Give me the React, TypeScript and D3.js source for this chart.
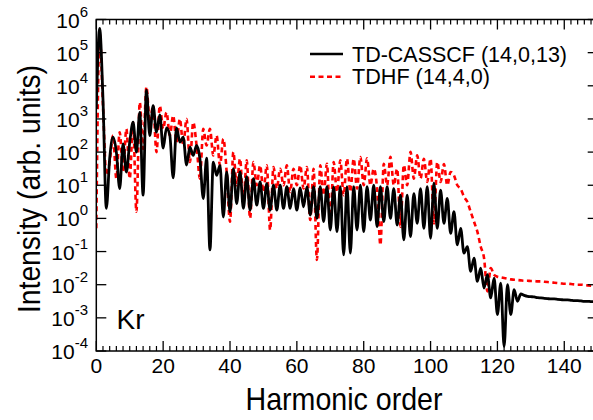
import React from "react";
import * as d3 from "d3";

// Harmonic order grid (x) and log10 intensities
const harmonicOrders: number[] = d3.range(0, 151);

const tdcasscfLog: number[] = [
  3.3, 5.73, 3.6, 0.3, 1.8, 2.45, 2.0, 0.9, 2.25, 1.4,
  2.3, 2.9, 2.0, 3.2, 0.7, 3.87, 2.5, 3.4, 2.6, 3.12,
  2.12, 2.73, 2.5, 1.22, 2.73, 2.3, 2.45, 1.61, 2.15, 1.9,
  2.2, 1.8, 0.6, 1.82, -0.95, 1.7, 1.3, 1.6, 0.04, 1.4,
  0.2, 1.5, 0.45, 1.4, 0.3, 1.26, 0.25, 1.2, 0.4, 1.1,
  0.3, 1.05, 0.25, 1.0, 0.25, 1.0, 0.3, 0.96, 0.3, 0.9,
  0.25, 0.92, 0.35, 0.95, 0.1, 0.96, 0.0, 0.96, -0.1, 0.96,
  -0.35, 0.95, -0.4, 0.96, -1.1, 0.96, -1.05, 0.96, -0.35, 1.0,
  -0.4, 0.96, -0.05, 1.0, -0.25, 0.96, -0.1, 0.96, 0.0, 0.9,
  -0.2, 0.7, -0.65, 0.7, -0.55, 0.75, -0.15, 0.9, -0.3, 0.96,
  -0.6, 1.06, -0.3, 0.85, -0.15, 0.6, -0.45, 0.2, -0.8, -0.3,
  -1.05, -0.85, -1.6, -1.2, -1.9, -1.5, -2.1, -1.7, -2.4, -1.8,
  -2.9, -1.95, -3.87, -2.0, -2.9, -2.15, -2.5, -2.28, -2.32, -2.35,
  -2.36, -2.37, -2.39, -2.4, -2.41, -2.42, -2.43, -2.43, -2.44, -2.45,
  -2.46, -2.46, -2.47, -2.48, -2.48, -2.49, -2.5, -2.5, -2.51, -2.51, -2.52,
];

const tdhfLog: number[] = [
  -0.3, 5.6, 3.4, 1.3, 1.7, 2.5, 1.2, 2.6, 1.4, 2.7,
  1.2, 2.9, 0.2, 3.5, 2.1, 3.97, 2.9, 3.4, 2.0, 3.4,
  2.7, 3.2, 2.5, 3.1, 2.3, 3.0, 2.2, 3.0, 1.7, 2.9,
  2.2, 1.2, 2.7, 2.2, 2.7, 1.9, 2.5, 1.6, 2.4, 1.4,
  -0.1, 2.0, 1.0, 1.8, 0.45, 1.75, 0.0, 1.7, 1.0, 1.6,
  0.8, 1.6, -0.35, 1.55, 0.9, 1.5, 1.0, 1.6, 0.8, 1.5,
  1.0, 1.6, 0.9, 1.55, -0.05, 1.5, -1.25, 1.6, 0.7, 1.65,
  -0.2, 1.7, 0.8, 1.75, 0.7, 1.8, 0.8, 1.8, 0.9, 1.85,
  1.0, 1.81, 1.0, 1.5, 0.9, -0.8, 1.65, 1.0, 1.86, 1.0,
  1.5, -0.25, 1.61, 1.0, 2.01, 1.2, 1.9, 1.2, 1.8, 1.1,
  1.8, -0.15, 1.7, 1.1, 1.64, 1.0, 1.4, 1.3, 1.0, 0.9,
  0.65, 0.5, 0.2, -0.1, -0.4, -0.85, -1.2, -2.2, -1.5, -1.7,
  -1.76, -1.78, -1.8, -1.82, -1.84, -1.85, -1.86, -1.87, -1.88, -1.88,
  -1.89, -1.89, -1.9, -1.9, -1.91, -1.92, -1.93, -1.94, -1.95, -1.96,
  -1.97, -1.97, -1.98, -1.99, -2.0, -2.0, -2.01, -2.02, -2.03, -2.04, -2.04,
];

const xMajorTicks: number[] = [0, 20, 40, 60, 80, 100, 120, 140];
const yExponents: number[] = [-4, -3, -2, -1, 0, 1, 2, 3, 4, 5, 6];
const seriesNames: string[] = ["TD-CASSCF (14,0,13)", "TDHF (14,4,0)"];
const xTitle = "Harmonic order";
const yTitle = "Intensity (arb. units)";
const atomLabel = "Kr";

const W = 593;
const H = 420;
const FONT = "'Liberation Sans', Arial, Helvetica, sans-serif";

export default function App() {
  const x = d3.scaleLinear().domain([0, 150]).range([96.3, 597.7]);
  const y = d3.scaleLog().domain([1e-4, 1e6]).range([351, 19.5]);
  const left = x(0), right = x(150), top = y(1e6), bottom = y(1e-4);

  const line = d3
    .line<number>()
    .x((_, i) => x(harmonicOrders[i]))
    .y((v) => y(Math.pow(10, v)))
    .curve(d3.curveMonotoneX);

  const minor = d3.range(0, 151, 2).filter((t) => t % 20 !== 0);

  return (
    <svg
      width={W}
      height={H}
      style={{ position: "absolute", left: 0, top: 0, background: "#fff" }}
      fontFamily={FONT}
    >
      <rect x={0} y={0} width={W} height={H} fill="#fff" />
      <defs>
        <clipPath id="plot">
          <rect x={left} y={top} width={right - left} height={bottom - top} />
        </clipPath>
      </defs>
      <g clipPath="url(#plot)">
        <path
          d={line(tdhfLog) || ""}
          fill="none"
          stroke="#ff0000"
          strokeWidth={2.6}
          strokeDasharray="5,3.5"
        />
        <path
          d={line(tdcasscfLog) || ""}
          fill="none"
          stroke="#000"
          strokeWidth={2.8}
          strokeLinejoin="round"
        />
      </g>

      {/* frame */}
      <rect
        x={left}
        y={top}
        width={right - left}
        height={bottom - top}
        fill="none"
        stroke="#000"
        strokeWidth={1.5}
      />

      {/* x ticks */}
      {xMajorTicks.map((t) => (
        <g key={"xm" + t}>
          <line x1={x(t)} x2={x(t)} y1={bottom} y2={bottom - 10} stroke="#000" strokeWidth={1.3} />
          <line x1={x(t)} x2={x(t)} y1={top} y2={top + 10} stroke="#000" strokeWidth={1.3} />
          <text x={x(t)} y={373} fontSize={21} textAnchor="middle" fill="#000">
            {t}
          </text>
        </g>
      ))}
      {minor.map((t) => (
        <g key={"xn" + t}>
          <line x1={x(t)} x2={x(t)} y1={bottom} y2={bottom - 5} stroke="#000" strokeWidth={1.2} />
          <line x1={x(t)} x2={x(t)} y1={top} y2={top + 5} stroke="#000" strokeWidth={1.2} />
        </g>
      ))}

      {/* y ticks */}
      {yExponents.map((e) => {
        const yy = y(Math.pow(10, e));
        return (
          <g key={"y" + e}>
            <line x1={left} x2={left + 10} y1={yy} y2={yy} stroke="#000" strokeWidth={1.3} />
            <line x1={right} x2={right - 10} y1={yy} y2={yy} stroke="#000" strokeWidth={1.3} />
            <text x={88} y={yy + 8} fontSize={21} textAnchor="end" fill="#000">
              10
              <tspan dy={-11} fontSize={15}>
                {e < 0 ? "-" + Math.abs(e) : String(e)}
              </tspan>
            </text>
          </g>
        );
      })}

      {/* axis titles */}
      <text
        x={(x(0) + x(150)) / 2 - 3}
        y={410}
        fontSize={32}
        textAnchor="middle"
        textLength={197}
        lengthAdjust="spacingAndGlyphs"
        fill="#000"
      >
        {xTitle}
      </text>
      <text
        transform={`translate(40,189) rotate(-90)`}
        fontSize={32}
        textAnchor="middle"
        textLength={248}
        lengthAdjust="spacingAndGlyphs"
        fill="#000"
      >
        {yTitle}
      </text>

      <text x={116.5} y={329} fontSize={28} fill="#000">
        {atomLabel}
      </text>

      {/* legend */}
      <line x1={310} x2={343} y1={54} y2={54} stroke="#000" strokeWidth={2.6} />
      <text x={352} y={61.7} fontSize={21.5} textLength={215} lengthAdjust="spacingAndGlyphs" fill="#000">
        {seriesNames[0]}
      </text>
      <line
        x1={310}
        x2={343}
        y1={76.7}
        y2={76.7}
        stroke="#ff0000"
        strokeWidth={2.6}
        strokeDasharray="5,3.5"
      />
      <text x={352} y={83.5} fontSize={21.5} textLength={138} lengthAdjust="spacingAndGlyphs" fill="#000">
        {seriesNames[1]}
      </text>
    </svg>
  );
}
